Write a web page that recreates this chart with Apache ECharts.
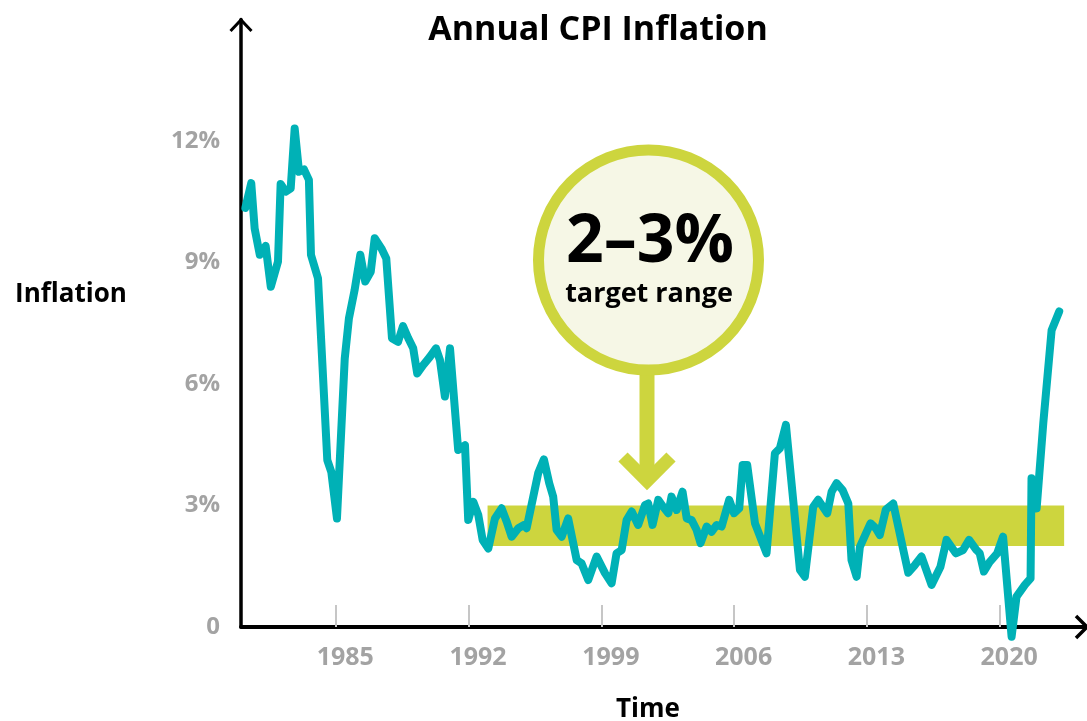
<!DOCTYPE html>
<html>
<head>
<meta charset="utf-8">
<script src="https://cdn.jsdelivr.net/npm/echarts@6/dist/echarts.min.js"></script>
<style>
html,body{margin:0;padding:0;background:#fff;}
#chart{width:1087px;height:721px;}
</style>
</head>
<body>
<div id="chart"></div>
<script>
// ---- data ----
const years = [1980.23,1980.54,1980.72,1980.99,1981.30,1981.57,1981.95,1982.09,1982.36,1982.62,
  1982.83,1983.06,1983.32,1983.58,1983.69,1984.06,1984.55,1984.76,1985.06,1985.47,
  1985.69,1985.99,1986.29,1986.55,1986.84,1987.05,1987.40,1987.66,1987.96,1988.28,
  1988.54,1988.82,1989.08,1989.29,1989.61,1989.96,1990.28,1990.49,1990.75,1991.02,
  1991.45,1991.81,1991.98,1992.25,1992.51,1992.74,1993.04,1993.39,1993.74,1994.01,
  1994.27,1994.62,1994.92,1995.06,1995.41,1995.67,1995.97,1996.25,1996.46,1996.64,
  1996.91,1997.25,1997.70,1997.96,1998.31,1998.75,1999.19,1999.54,1999.80,2000.07,
  2000.33,2000.60,2000.94,2001.30,2001.47,2001.70,2002.00,2002.26,2002.53,2002.70,
  2002.97,2003.28,2003.50,2003.76,2004.02,2004.23,2004.55,2004.81,2005.08,2005.34,
  2005.74,2005.99,2006.27,2006.45,2006.69,2007.10,2007.71,2008.15,2008.41,2008.73,
  2009.47,2009.73,2010.17,2010.43,2010.91,2011.14,2011.40,2011.72,2012.02,2012.19,
  2012.46,2012.63,2012.95,2013.19,2013.47,2013.68,2014.00,2014.39,2015.18,2015.53,
  2015.88,2016.41,2016.88,2017.20,2017.69,2018.07,2018.39,2018.78,2018.95,2019.17,
  2019.48,2019.87,2020.18,2020.63,2020.89,2021.33,2021.63,2021.68,2021.95,2022.30,
  2022.74,2023.14];
const inflation = [10.35,10.96,9.84,9.19,9.41,8.40,9.02,10.94,10.75,10.83,
  12.31,11.24,11.30,11.04,9.19,8.61,4.12,3.83,2.68,6.63,
  7.62,8.32,9.19,8.53,8.77,9.60,9.35,9.10,7.13,7.04,
  7.43,7.13,6.88,6.26,6.47,6.67,6.88,6.59,5.69,6.88,
  4.37,4.49,2.64,3.09,2.77,2.15,1.94,2.68,2.93,2.60,
  2.23,2.44,2.52,2.44,3.22,3.80,4.14,3.55,3.22,2.40,
  2.23,2.68,1.65,1.57,1.16,1.74,1.33,1.08,1.82,1.90,
  2.64,2.85,2.52,3.01,3.05,2.52,3.14,2.97,2.81,3.22,
  2.89,3.34,2.68,2.64,2.40,2.07,2.48,2.35,2.52,2.48,
  3.14,2.81,2.93,4.00,4.00,2.56,1.82,4.29,4.41,4.99,
  1.41,1.24,2.97,3.14,2.81,3.34,3.55,3.38,3.05,1.65,
  1.24,1.98,2.31,2.56,2.44,2.27,2.90,3.05,1.34,1.53,
  1.74,1.04,1.49,2.15,1.82,1.90,2.15,1.90,1.82,1.37,
  1.61,1.82,2.23,-0.24,0.75,1.04,1.20,3.67,2.93,5.03,
  7.33,7.79];
const xTickYears = [1985, 1992, 1999, 2006, 2013, 2020];
const yTicks = [0, 3, 6, 9, 12];
const targetRange = [2, 3];          // percent
const targetSpan = [1993, 2023.4];   // years the band covers
const titleText = 'Annual CPI Inflation';
const yName = 'Inflation';
const xName = 'Time';
const calloutBig = '2–3%';
const calloutSmall = 'target range';

// ---- chart ----
const TEAL = '#00b1b6';
const LIME = '#cdd53e';
const GREY = '#a3a3a3';
const FONT = '"Open Sans", "Noto Sans", sans-serif';

const chart = echarts.init(document.getElementById('chart'), null, {renderer: 'canvas'});
const lineData = years.map((y, i) => [y, inflation[i]]);

const option = {
  animation: false,
  backgroundColor: '#ffffff',
  grid: {left: 241, right: 2, top: 19.5, bottom: 94, containLabel: false},
  xAxis: {
    type: 'value', min: 1980, max: 2024.5,
    axisLine: {show: true, lineStyle: {color: '#000', width: 4}},
    axisTick: {show: true, inside: true, length: 22, customValues: xTickYears,
      lineStyle: {color: '#c6c6c6', width: 2}},
    axisLabel: {customValues: xTickYears.map(y => y + 0.5),
      formatter: v => String(Math.floor(v)),
      color: GREY, fontSize: 25, fontWeight: 'bold', fontFamily: FONT, margin: 18},
    splitLine: {show: false}
  },
  yAxis: {
    type: 'value', min: 0, max: 15, interval: 3,
    axisLine: {show: true, lineStyle: {color: '#000', width: 3.5}},
    axisTick: {show: false},
    axisLabel: {customValues: yTicks, formatter: v => (v === 0 ? '0' : v + '%'),
      color: GREY, fontSize: 24, fontWeight: 'bold', fontFamily: FONT, margin: 21},
    splitLine: {show: false}
  },
  series: [
    {
      type: 'line', data: [], z: 1, silent: true,
      markArea: {
        silent: true,
        itemStyle: {color: LIME, opacity: 1},
        data: [[{xAxis: targetSpan[0], yAxis: targetRange[0]}, {xAxis: targetSpan[1], yAxis: targetRange[1]}]]
      }
    },
    {
      type: 'line', data: lineData, z: 5, clip: false,
      symbol: 'none', smooth: false,
      lineStyle: {color: TEAL, width: 8, join: 'round', cap: 'round'}
    }
  ],
  graphic: [
    {type: 'text', x: 598, y: 30, z: 10,
      style: {text: titleText, fontSize: 34, fontWeight: 'bold', fontFamily: FONT, fill: '#000', align: 'center', verticalAlign: 'middle'}},
    {type: 'text', x: 71, y: 295, z: 10,
      style: {text: yName, fontSize: 26, fontWeight: 'bold', fontFamily: FONT, fill: '#000', align: 'center', verticalAlign: 'middle'}},
    {type: 'text', x: 648, y: 710, z: 10,
      style: {text: xName, fontSize: 26, fontWeight: 'bold', fontFamily: FONT, fill: '#000', align: 'center', verticalAlign: 'middle'}},
    // axis arrows
    {type: 'polyline', z: 10, shape: {points: [[230.5, 31], [241, 20], [251.5, 31]]},
      style: {stroke: '#000', lineWidth: 3, fill: null}},
    {type: 'polyline', z: 10, shape: {points: [[1076, 616], [1087, 627], [1076, 638]]},
      style: {stroke: '#000', lineWidth: 3.5, fill: null}},
    // callout: stem, chevron, circle
    {type: 'rect', z: 8, shape: {x: 639.5, y: 360, width: 15, height: 118},
      style: {fill: LIME}},
    {type: 'polyline', z: 8, shape: {points: [[623, 457], [647, 481], [671, 457]]},
      style: {stroke: LIME, lineWidth: 13, fill: null, lineJoin: 'miter', lineCap: 'butt'}},
    {type: 'circle', z: 9, shape: {cx: 648.5, cy: 260, r: 110},
      style: {fill: '#f6f7e6', stroke: LIME, lineWidth: 11}},
    {type: 'text', x: 650, y: 243, z: 11,
      style: {text: calloutBig, fontSize: 66, fontWeight: 'bold', fontFamily: FONT, fill: '#000', align: 'center', verticalAlign: 'middle'}},
    {type: 'text', x: 649, y: 294, z: 11,
      style: {text: calloutSmall, fontSize: 27, fontWeight: 'bold', fontFamily: FONT, fill: '#000', align: 'center', verticalAlign: 'middle'}}
  ]
};
chart.setOption(option);
</script>
</body>
</html>
